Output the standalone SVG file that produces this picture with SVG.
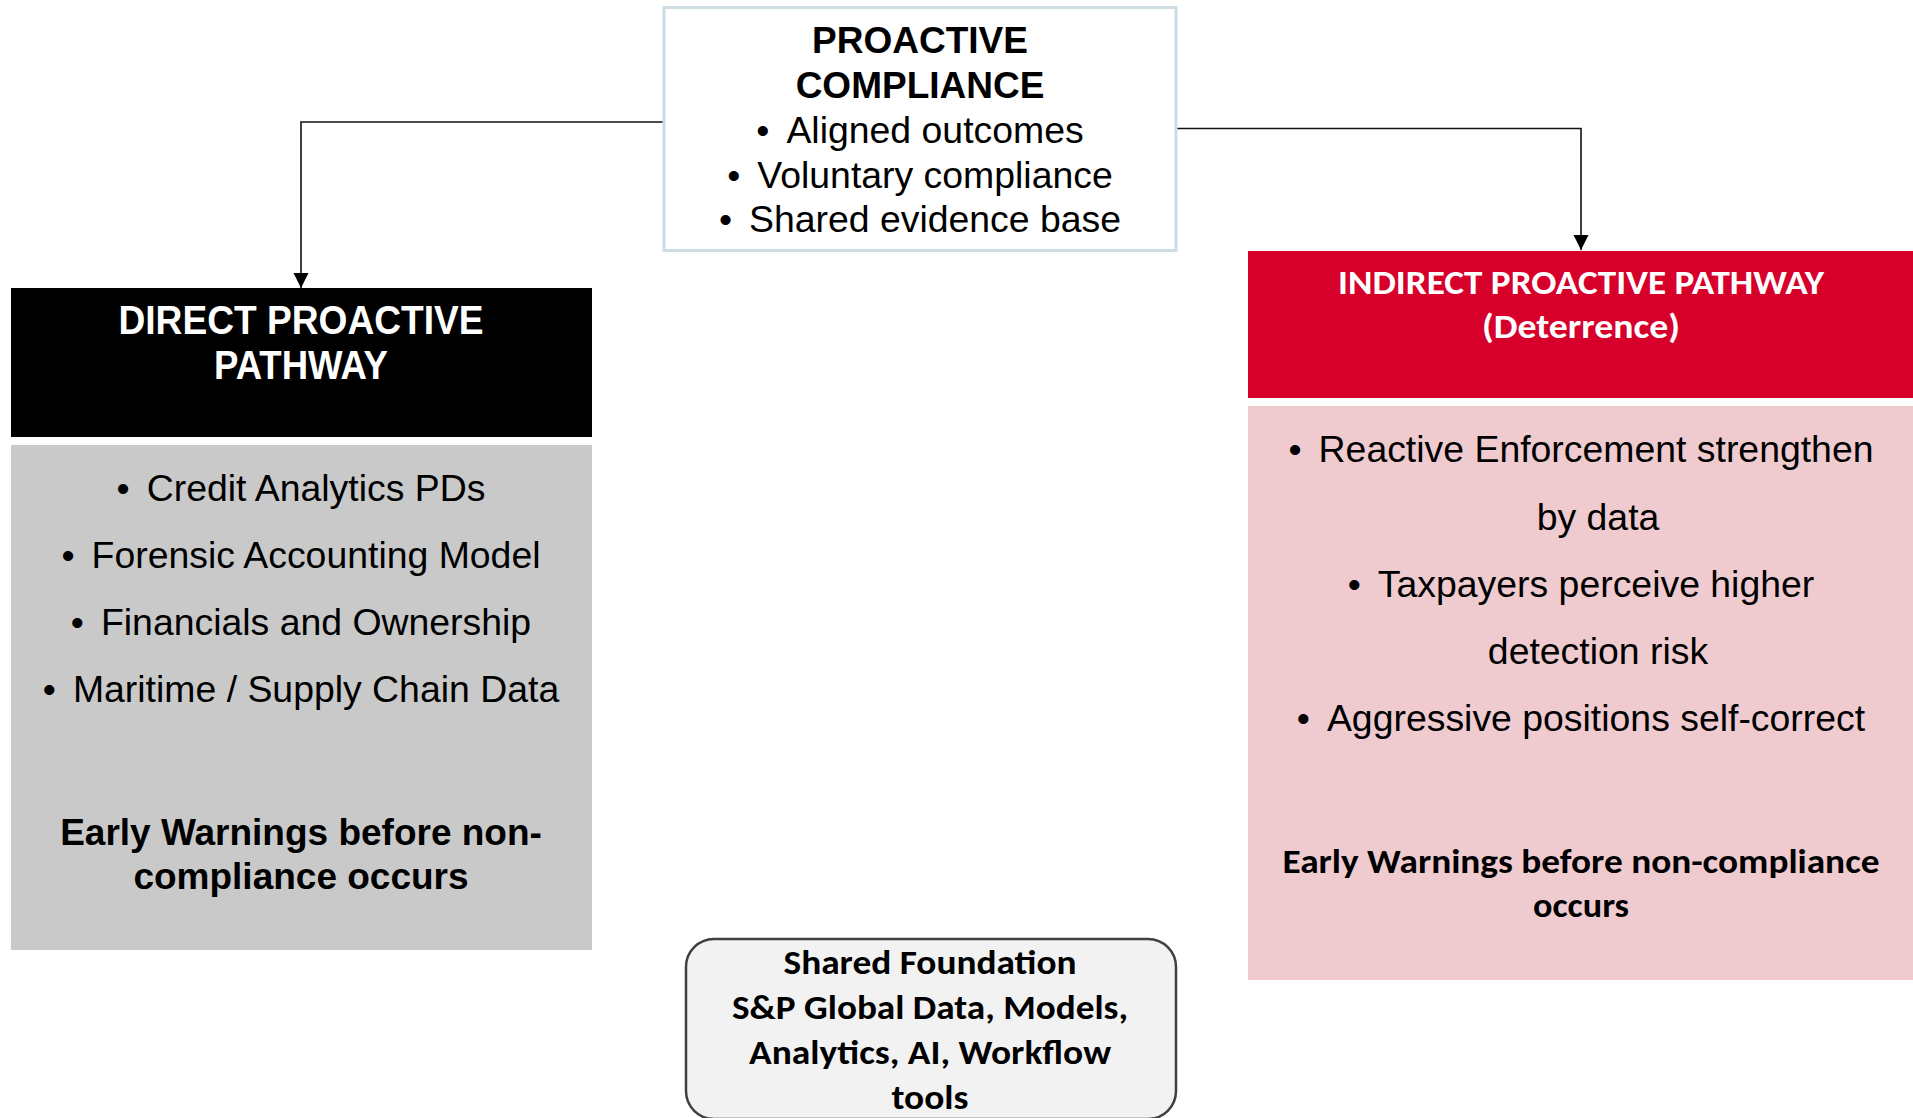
<svg xmlns="http://www.w3.org/2000/svg" width="1913" height="1118" viewBox="0 0 1913 1118">
  <defs>
    <marker id="arrow" markerUnits="userSpaceOnUse" markerWidth="16" markerHeight="16" refX="15" refY="7.5" orient="auto">
      <path d="M0,0 L15,7.5 L0,15 z" fill="#000"/>
    </marker>
    <style>
      .arial { font-family: "Liberation Sans", Arial, sans-serif; }
      .narrow { font-family: "Liberation Sans Narrow", "Liberation Sans", Arial, sans-serif; font-weight: bold; }
      .cal { font-family: Carlito, "Liberation Sans Narrow", "Open Sans", sans-serif; font-weight: bold; }
      .reg { font-size: 37.4px; fill: #000; }
      .bold { font-size: 37px; font-weight: bold; fill: #000; }
      .conn { fill: none; stroke: #111; stroke-width: 1.6; }
    </style>
  </defs>
  <rect width="1913" height="1118" fill="#ffffff"/>

  <g id="connectors">
    <path class="conn" d="M664,122 H301 V288" marker-end="url(#arrow)"/>
    <path class="conn" d="M1176,128.5 H1581 V250" stroke="#3a3a3a" stroke-width="2" marker-end="url(#arrow)"/>
  </g>

  <g id="proactive-compliance">
    <rect x="664" y="7.5" width="512" height="243" fill="#ffffff" stroke="#cddde3" stroke-width="3"/>
    <text class="arial bold" x="920" y="53" text-anchor="middle">PROACTIVE</text>
    <text class="arial bold" x="920" y="98" text-anchor="middle">COMPLIANCE</text>
    <text class="arial reg" x="920" y="143" text-anchor="middle">•<tspan dx="17">Aligned outcomes</tspan></text>
    <text class="arial reg" x="920" y="188" text-anchor="middle">•<tspan dx="17">Voluntary compliance</tspan></text>
    <text class="arial reg" x="920" y="232" text-anchor="middle">•<tspan dx="17">Shared evidence base</tspan></text>
  </g>

  <g id="direct-pathway">
    <rect x="11" y="288" width="581" height="149" fill="#000000"/>
    <text class="narrow" x="301" y="334" font-size="41" fill="#ffffff" text-anchor="middle" textLength="365" lengthAdjust="spacingAndGlyphs">DIRECT PROACTIVE</text>
    <text class="narrow" x="301" y="379" font-size="41" fill="#ffffff" text-anchor="middle" textLength="174" lengthAdjust="spacingAndGlyphs">PATHWAY</text>
  </g>

  <g id="direct-details">
    <rect x="11" y="445" width="581" height="505" fill="#c9c9c9"/>
    <text class="arial reg" x="301" y="501" text-anchor="middle">•<tspan dx="17">Credit Analytics PDs</tspan></text>
    <text class="arial reg" x="301" y="568" text-anchor="middle">•<tspan dx="17">Forensic Accounting Model</tspan></text>
    <text class="arial reg" x="301" y="635" text-anchor="middle">•<tspan dx="17">Financials and Ownership</tspan></text>
    <text class="arial reg" x="301" y="702" text-anchor="middle">•<tspan dx="17">Maritime / Supply Chain Data</tspan></text>
    <text class="arial bold" x="301" y="845" text-anchor="middle">Early Warnings before non-</text>
    <text class="arial bold" x="301" y="889" text-anchor="middle">compliance occurs</text>
  </g>

  <g id="indirect-pathway">
    <rect x="1248" y="251" width="665" height="147" fill="#d6002a"/>
    <text class="cal" x="1581" y="294" font-size="34" fill="#ffffff" text-anchor="middle" textLength="486" lengthAdjust="spacingAndGlyphs">INDIRECT PROACTIVE PATHWAY</text>
    <text class="cal" x="1581" y="338" font-size="34" fill="#ffffff" text-anchor="middle" textLength="198" lengthAdjust="spacingAndGlyphs">(Deterrence)</text>
  </g>

  <g id="indirect-details">
    <rect x="1248" y="406" width="665" height="574" fill="#efcbd0"/>
    <text class="arial reg" x="1581" y="462" text-anchor="middle">•<tspan dx="17">Reactive Enforcement strengthen</tspan></text>
    <text class="arial reg" x="1598" y="530" text-anchor="middle">by data</text>
    <text class="arial reg" x="1581" y="597" text-anchor="middle">•<tspan dx="17">Taxpayers perceive higher</tspan></text>
    <text class="arial reg" x="1598" y="664" text-anchor="middle">detection risk</text>
    <text class="arial reg" x="1581" y="731" text-anchor="middle">•<tspan dx="17">Aggressive positions self-correct</tspan></text>
    <text class="cal" x="1581" y="873" font-size="34" fill="#000000" text-anchor="middle" textLength="597" lengthAdjust="spacingAndGlyphs">Early Warnings before non-compliance</text>
    <text class="cal" x="1581" y="917" font-size="34" fill="#000000" text-anchor="middle" textLength="96" lengthAdjust="spacingAndGlyphs">occurs</text>
  </g>

  <g id="shared-foundation">
    <rect x="686" y="939" width="490" height="180" rx="28" ry="28" fill="#f2f2f2" stroke="#404040" stroke-width="2.5"/>
    <text class="cal" x="930" y="974" font-size="34" fill="#000000" text-anchor="middle" textLength="293" lengthAdjust="spacingAndGlyphs">Shared Foundation</text>
    <text class="cal" x="930" y="1019" font-size="34" fill="#000000" text-anchor="middle" textLength="396" lengthAdjust="spacingAndGlyphs">S&amp;P Global Data, Models,</text>
    <text class="cal" x="930" y="1064" font-size="34" fill="#000000" text-anchor="middle" textLength="362" lengthAdjust="spacingAndGlyphs">Analytics, AI, Workflow</text>
    <text class="cal" x="930" y="1109" font-size="34" fill="#000000" text-anchor="middle" textLength="77" lengthAdjust="spacingAndGlyphs">tools</text>
  </g>
</svg>
